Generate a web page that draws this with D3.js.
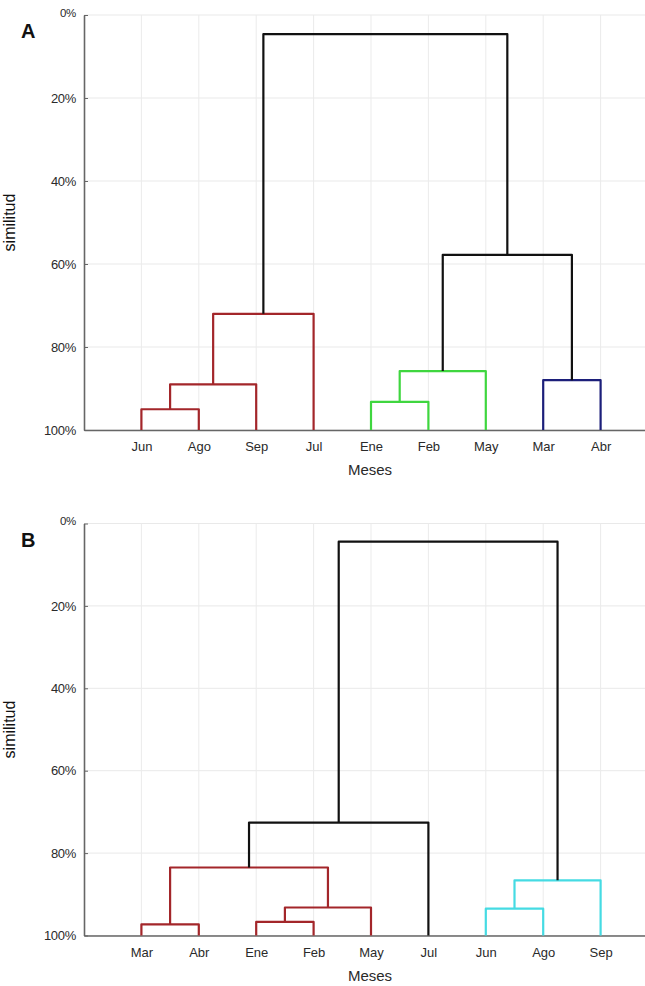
<!DOCTYPE html>
<html>
<head>
<meta charset="utf-8">
<script src="https://cdn.jsdelivr.net/npm/d3@7"></script>
<style>
  html, body { margin: 0; padding: 0; background: #fff; }
  svg { display: block; }
  text { font-family: "Liberation Sans", Arial, sans-serif; }
</style>
</head>
<body>
<svg id="chart" width="645" height="986"></svg>
<script>
// Panel A: leaf order and merges (left child, right child, similarity %, colour)
// Children 0..8 refer to leaves, 9.. refer to earlier merges.
const leavesA = ["Jun", "Ago", "Sep", "Jul", "Ene", "Feb", "May", "Mar", "Abr"];
const mergeLeftA  = [0, 9, 10, 4, 12, 7, 13, 11];
const mergeRightA = [1, 2, 3, 5, 6, 8, 14, 15];
const heightsA    = [95.0, 89.0, 72.0, 93.2, 85.8, 88.0, 57.8, 4.6];
const coloursA    = ["#a3262a", "#a3262a", "#a3262a", "#3fd63f", "#3fd63f", "#1c1f7a", "#111", "#111"];

// Panel B
const leavesB = ["Mar", "Abr", "Ene", "Feb", "May", "Jul", "Jun", "Ago", "Sep"];
const mergeLeftB  = [2, 0, 9, 10, 12, 6, 14, 13];
const mergeRightB = [3, 1, 4, 11, 5, 7, 8, 15];
const heightsB    = [96.7, 97.3, 93.2, 83.5, 72.6, 93.5, 86.6, 4.4];
const coloursB    = ["#a3262a", "#a3262a", "#a3262a", "#a3262a", "#111", "#45dbe3", "#45dbe3", "#111"];

const yTicks = [0, 20, 40, 60, 80, 100];

const svg = d3.select("#chart");

function drawPanel(cfg) {
  const { top, bottom, leaves, left, right, heights, colours, letter } = cfg;
  const x = d3.scaleLinear().domain([0, 10]).range([84, 658]);
  const y = d3.scaleLinear().domain([0, 100]).range([top, bottom]);
  const g = svg.append("g");

  // grid
  g.append("g").selectAll("line.h").data(yTicks).join("line")
    .attr("x1", 84).attr("x2", 645)
    .attr("y1", d => y(d)).attr("y2", d => y(d))
    .attr("stroke", "#e9e9e9").attr("stroke-width", 1);
  g.append("g").selectAll("line.v").data(leaves.map((_, i) => i + 1)).join("line")
    .attr("x1", d => x(d)).attr("x2", d => x(d))
    .attr("y1", y(0)).attr("y2", y(100))
    .attr("stroke", "#ebebeb").attr("stroke-width", 1);

  // node positions
  const nx = leaves.map((_, i) => i + 1);
  const nh = leaves.map(() => 100);
  const links = [];
  for (let k = 0; k < heights.length; k++) {
    const a = left[k], b = right[k], h = heights[k];
    links.push({ x1: nx[a], h1: nh[a], x2: nx[b], h2: nh[b], h, c: colours[k] });
    nx.push((nx[a] + nx[b]) / 2);
    nh.push(h);
  }

  // y axis
  const yAxis = d3.axisLeft(y).tickValues(yTicks).tickFormat(d => d + "%")
    .tickSizeInner(-4).tickSizeOuter(0).tickPadding(8);
  const ya = g.append("g").attr("transform", "translate(84,0)").call(yAxis);
  ya.select(".domain").attr("stroke", "#666").attr("stroke-width", 1.6);
  ya.selectAll(".tick line").attr("stroke", "#666");
  ya.selectAll(".tick text").attr("font-size", 13).attr("fill", "#2a2a2a")
    .attr("font-family", "Liberation Sans, Arial, sans-serif").attr("letter-spacing", "-0.3");
  ya.selectAll(".tick text").filter(d => d === 0)
    .attr("font-size", 11.5).attr("dy", "0.1em");

  // x axis
  const xAxis = d3.axisBottom(x).tickValues(leaves.map((_, i) => i + 1))
    .tickFormat(d => leaves[d - 1]).tickSize(0).tickPadding(12);
  const xa = g.append("g").attr("transform", `translate(0,${y(100)})`).call(xAxis);
  xa.select(".domain").attr("stroke", "#666").attr("stroke-width", 1.6);
  xa.selectAll(".tick text").attr("font-size", 13).attr("fill", "#2a2a2a")
    .attr("font-family", "Liberation Sans, Arial, sans-serif");

  // dendrogram links
  const line = d3.line();
  g.append("g").selectAll("path").data(links).join("path")
    .attr("d", l => line([[x(l.x1), y(l.h1)], [x(l.x1), y(l.h)], [x(l.x2), y(l.h)], [x(l.x2), y(l.h2)]]))
    .attr("fill", "none").attr("stroke", l => l.c).attr("stroke-width", 2.2)
    .attr("stroke-linejoin", "round");

  // labels
  g.append("text").attr("x", 370).attr("y", y(100) + 45).attr("text-anchor", "middle")
    .attr("font-size", 15).attr("fill", "#2a2a2a").text("Meses");
  g.append("text").attr("transform", `translate(15,${(y(0) + y(100)) / 2}) rotate(-90)`)
    .attr("text-anchor", "middle").attr("font-size", 16).attr("fill", "#111").text("similitud");
  g.append("text").attr("x", 21).attr("y", y(0) + 23).attr("font-size", 20)
    .attr("font-weight", "bold").attr("fill", "#111").text(letter);
}

drawPanel({ top: 15, bottom: 430, leaves: leavesA, left: mergeLeftA, right: mergeRightA,
  heights: heightsA, colours: coloursA, letter: "A" });
drawPanel({ top: 523.5, bottom: 935.5, leaves: leavesB, left: mergeLeftB, right: mergeRightB,
  heights: heightsB, colours: coloursB, letter: "B" });
</script>
</body>
</html>
